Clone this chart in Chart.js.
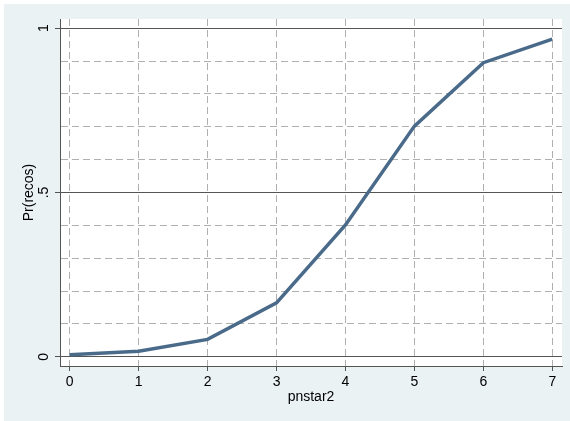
<!DOCTYPE html>
<html>
<head>
<meta charset="utf-8">
<script src="https://cdn.jsdelivr.net/npm/chart.js@4"></script>
<style>
  html, body { margin: 0; padding: 0; background: #ffffff; }
  #wrap { position: absolute; left: 4px; top: 4px; width: 566px; height: 417px; background: #eaf2f3; }
</style>
</head>
<body>
<div id="wrap"><canvas id="chart"></canvas></div>
<script>
// values
const xValues = [0, 1, 2, 3, 4, 5, 6, 7];
const prRecos = [0.006, 0.017, 0.053, 0.164, 0.401, 0.702, 0.895, 0.967];

const xTicks = [0, 1, 2, 3, 4, 5, 6, 7];
const yGrid = [0, 0.1, 0.2, 0.3, 0.4, 0.5, 0.6, 0.7, 0.8, 0.9, 1];
const yMajor = [0, 0.5, 1];
const yTickLabels = ['0', '.5', '1'];

const solidGrid = '#555555';
const dashGrid = '#b0b0b0';
const font = { family: 'Liberation Sans, Arial, sans-serif', size: 14 };

function isMajor(v) {
    return yMajor.some(m => Math.abs(m - v) < 1e-9);
}

// white plot region, like Stata's inner area
const plotBackground = {
    id: 'plotBackground',
    beforeDraw(chart) {
        const a = chart.chartArea;
        const ctx = chart.ctx;
        ctx.save();
        ctx.fillStyle = '#ffffff';
        ctx.fillRect(a.left, a.top, a.right - a.left, a.bottom - a.top);
        ctx.restore();
    }
};

const ctx = document.getElementById('chart').getContext('2d');

new Chart(ctx, {
    type: 'line',
    data: {
        datasets: [{
            data: xValues.map((x, i) => ({ x: x, y: prRecos[i] })),
            borderColor: '#4a6a8a',
            borderWidth: 3.5,
            pointRadius: 0,
            tension: 0,
            fill: false
        }]
    },
    options: {
        responsive: true,
        maintainAspectRatio: false,
        animation: false,
        layout: { padding: { top: 15, right: 8, left: 0, bottom: 0 } },
        plugins: {
            legend: { display: false },
            tooltip: { enabled: false }
        },
        scales: {
            x: {
                type: 'linear',
                min: -0.14,
                max: 7.14,
                afterBuildTicks: scale => { scale.ticks = xTicks.map(v => ({ value: v })); },
                afterFit: scale => { scale.height = 55; },
                ticks: {
                    color: '#000000',
                    font: font,
                    padding: 3,
                    maxRotation: 0,
                    callback: v => String(v)
                },
                grid: {
                    color: dashGrid,
                    tickColor: solidGrid,
                    tickLength: 5,
                    lineWidth: 1
                },
                border: { display: true, color: solidGrid, width: 1, dash: [7, 4] },
                title: {
                    display: true,
                    text: 'pnstar2',
                    color: '#000000',
                    font: font,
                    padding: { top: 0, bottom: 15.5 }
                }
            },
            y: {
                type: 'linear',
                min: -0.028,
                max: 1.028,
                afterBuildTicks: scale => { scale.ticks = yGrid.map(v => ({ value: v })); },
                afterFit: scale => { scale.width = 56; },
                ticks: {
                    color: '#000000',
                    font: font,
                    padding: 5,
                    minRotation: 90,
                    maxRotation: 90,
                    crossAlign: 'center',
                    callback: v => {
                        const k = yMajor.findIndex(m => Math.abs(m - v) < 1e-9);
                        return k >= 0 ? yTickLabels[k] : '';
                    }
                },
                grid: {
                    color: c => (c.tick && isMajor(c.tick.value)) ? solidGrid : dashGrid,
                    tickColor: c => (c.tick && isMajor(c.tick.value)) ? solidGrid : 'rgba(0,0,0,0)',
                    tickLength: 5,
                    lineWidth: 1
                },
                border: {
                    display: true,
                    color: solidGrid,
                    width: 1,
                    dash: c => (c.tick && !isMajor(c.tick.value)) ? [7, 4] : []
                },
                title: {
                    display: true,
                    text: 'Pr(recos)',
                    color: '#000000',
                    font: font,
                    padding: { top: 17, bottom: 0 }
                }
            }
        }
    },
    plugins: [plotBackground]
});
</script>
</body>
</html>
